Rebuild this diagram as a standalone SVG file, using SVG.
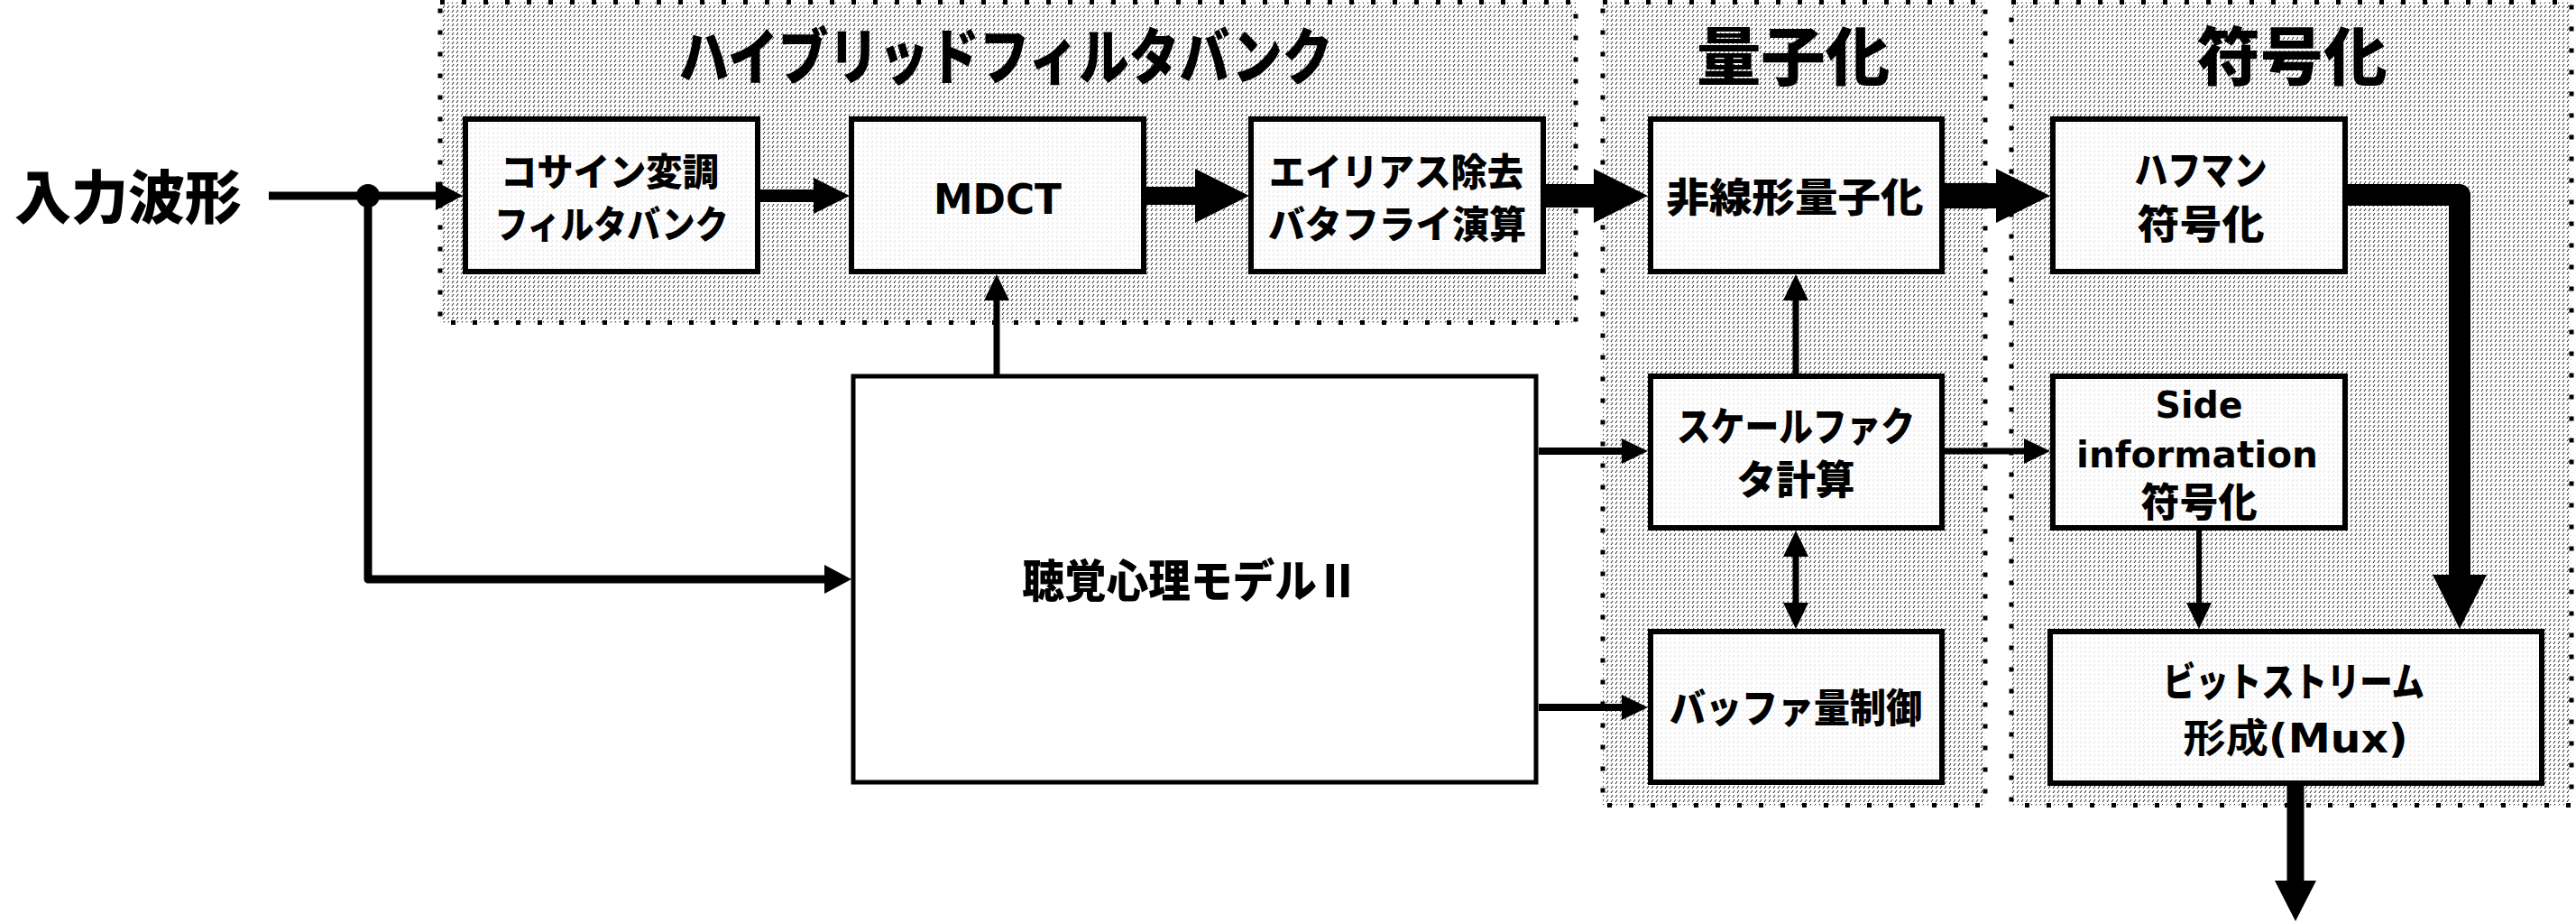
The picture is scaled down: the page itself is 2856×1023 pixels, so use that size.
<svg xmlns="http://www.w3.org/2000/svg" width="2856" height="1023" viewBox="0 0 2856 1023">
<style>
.zone{fill:url(#hatch);stroke:#000;stroke-width:5;stroke-dasharray:5 19}
.box{fill:#fff;fill-opacity:0.86;stroke:#000;stroke-width:6}
.wbox{fill:#fff;stroke:#000;stroke-width:5}
.jp{font-family:"Noto Sans CJK JP","Noto Sans",sans-serif;font-weight:900;fill:#000;text-anchor:middle}
.lat{font-family:"DejaVu Sans","Noto Sans CJK JP",sans-serif;font-weight:700;fill:#000;text-anchor:middle}
.t{font-size:68px}
.b{font-size:44px}
.s{font-size:42px}
.c{fill:none;stroke:#000;stroke-linejoin:round}
</style>
<defs>
<pattern id="hatch" patternUnits="userSpaceOnUse" width="5" height="5">
<rect width="5" height="5" fill="#fff"/>
<line x1="1" y1="4" x2="3" y2="1" stroke="#000" stroke-width="0.9"/>
</pattern>
<marker id="mS" markerUnits="userSpaceOnUse" orient="auto-start-reverse" refX="0" refY="0" overflow="visible"><path d="M0,-14 L29,0 L0,14 Z" fill="#000"/></marker>
<marker id="mIn" markerUnits="userSpaceOnUse" orient="auto" refX="0" refY="0" overflow="visible"><path d="M0,-16 L30,0 L0,16 Z" fill="#000"/></marker>
<marker id="mM" markerUnits="userSpaceOnUse" orient="auto" refX="0" refY="0" overflow="visible"><path d="M0,-20 L40,0 L0,20 Z" fill="#000"/></marker>
<marker id="mL" markerUnits="userSpaceOnUse" orient="auto" refX="0" refY="0" overflow="visible"><path d="M0,-30 L60,0 L0,30 Z" fill="#000"/></marker>
<marker id="mO" markerUnits="userSpaceOnUse" orient="auto" refX="0" refY="0" overflow="visible"><path d="M0,-23 L45,0 L0,23 Z" fill="#000"/></marker>
</defs>
<rect width="2856" height="1023" fill="#fff"/>

<g id="zone-filterbank">
<rect class="zone" x="488" y="2.5" width="1259" height="355"/>
<text class="jp t" x="1115" y="88" textLength="725" lengthAdjust="spacingAndGlyphs">ハイブリッドフィルタバンク</text>
</g>
<g id="zone-quant">
<rect class="zone" x="1777" y="2.5" width="424" height="890"/>
<text class="jp" x="1988" y="89" font-size="70" textLength="214" lengthAdjust="spacingAndGlyphs">量子化</text>
</g>
<g id="zone-coding">
<rect class="zone" x="2230" y="2.5" width="621" height="890"/>
<text class="jp" x="2541" y="89" font-size="70" textLength="211" lengthAdjust="spacingAndGlyphs">符号化</text>
</g>

<g id="input">
<text class="jp" x="142" y="242" font-size="64" textLength="252" lengthAdjust="spacingAndGlyphs">入力波形</text>
</g>

<g id="n-cosine">
<rect class="box" x="516" y="132" width="324" height="169"/>
<text class="jp s" x="676" y="206" textLength="242" lengthAdjust="spacingAndGlyphs">コサイン変調</text>
<text class="jp s" x="678" y="264" textLength="259" lengthAdjust="spacingAndGlyphs">フィルタバンク</text>
</g>
<g id="n-mdct">
<rect class="box" x="944" y="132" width="324" height="169"/>
<text class="lat" x="1106" y="237" font-size="47" textLength="142" lengthAdjust="spacingAndGlyphs">MDCT</text>
</g>
<g id="n-alias">
<rect class="box" x="1387" y="132" width="324" height="169"/>
<text class="jp s" x="1548" y="206" textLength="282" lengthAdjust="spacingAndGlyphs">エイリアス除去</text>
<text class="jp s" x="1549" y="264" textLength="286" lengthAdjust="spacingAndGlyphs">バタフライ演算</text>
</g>
<g id="n-nonlin">
<rect class="box" x="1830" y="132" width="323" height="169"/>
<text class="jp b" x="1990" y="235" textLength="285" lengthAdjust="spacingAndGlyphs">非線形量子化</text>
</g>
<g id="n-huffman">
<rect class="box" x="2276" y="132" width="324" height="169"/>
<text class="jp b" x="2440" y="205" textLength="147" lengthAdjust="spacingAndGlyphs">ハフマン</text>
<text class="jp b" x="2440" y="265" textLength="141" lengthAdjust="spacingAndGlyphs">符号化</text>
</g>
<g id="n-psycho">
<rect class="wbox" x="946" y="417" width="757" height="450"/>
<text class="jp" x="1320" y="662" font-size="50" textLength="373" lengthAdjust="spacingAndGlyphs">聴覚心理モデルⅡ</text>
</g>
<g id="n-scale">
<rect class="box" x="1830" y="417" width="323" height="168"/>
<text class="jp b" x="1991" y="489" textLength="264" lengthAdjust="spacingAndGlyphs">スケールファク</text>
<text class="jp b" x="1991" y="548" textLength="131" lengthAdjust="spacingAndGlyphs">タ計算</text>
</g>
<g id="n-side">
<rect class="box" x="2276" y="417" width="324" height="168"/>
<text class="lat" x="2438" y="463" font-size="41" textLength="97" lengthAdjust="spacingAndGlyphs">Side</text>
<text class="lat" x="2436" y="518" font-size="41" textLength="268" lengthAdjust="spacingAndGlyphs">information</text>
<text class="jp b" x="2438" y="573" textLength="129" lengthAdjust="spacingAndGlyphs">符号化</text>
</g>
<g id="n-buffer">
<rect class="box" x="1830" y="700" width="323" height="167"/>
<text class="jp b" x="1991" y="801" textLength="280" lengthAdjust="spacingAndGlyphs">バッファ量制御</text>
</g>
<g id="n-bitstream">
<rect class="box" x="2273" y="700" width="545" height="168"/>
<text class="jp b" x="2543" y="772" textLength="290" lengthAdjust="spacingAndGlyphs">ビットストリーム</text>
<text class="lat b" x="2545" y="834" textLength="249" lengthAdjust="spacingAndGlyphs">形成(Mux)</text>
</g>

<g id="connectors">
<path class="c" d="M298,217 H483" stroke-width="9" marker-end="url(#mIn)"/>
<circle cx="408" cy="217" r="13" fill="#000"/>
<path class="c" d="M408,217 V642 H914" stroke-width="9" marker-end="url(#mIn)"/>
<path class="c" d="M842,217 H902" stroke-width="14" marker-end="url(#mM)"/>
<path class="c" d="M1271,217 H1325" stroke-width="20" marker-end="url(#mL)"/>
<path class="c" d="M1714,217 H1767" stroke-width="26" marker-end="url(#mL)"/>
<path class="c" d="M2156,217 H2213" stroke-width="28" marker-end="url(#mL)"/>
<path class="c" d="M2603,216 H2727 V637" stroke-width="24" marker-end="url(#mL)"/>
<path class="c" d="M1105,415 V333" stroke-width="7" marker-end="url(#mS)"/>
<path class="c" d="M1706,500 H1798" stroke-width="8" marker-end="url(#mS)"/>
<path class="c" d="M1706,784 H1798" stroke-width="8" marker-end="url(#mS)"/>
<path class="c" d="M1991,415 V333" stroke-width="7" marker-end="url(#mS)"/>
<path class="c" d="M1991,617 V668" stroke-width="7" marker-start="url(#mS)" marker-end="url(#mS)"/>
<path class="c" d="M2156,500 H2244" stroke-width="7" marker-end="url(#mS)"/>
<path class="c" d="M2438,588 V668" stroke-width="6" marker-end="url(#mS)"/>
<path class="c" d="M2545,871 V976" stroke-width="19" marker-end="url(#mO)"/>
</g>
</svg>
